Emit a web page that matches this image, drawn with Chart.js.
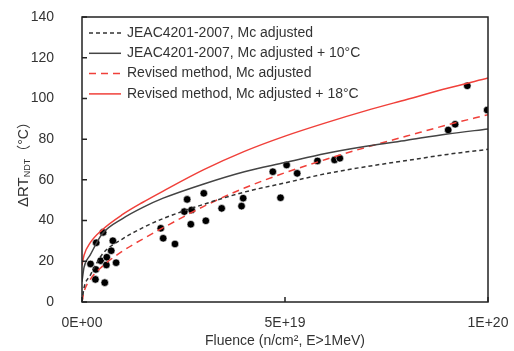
<!DOCTYPE html>
<html>
<head>
<meta charset="utf-8">
<script src="https://cdn.jsdelivr.net/npm/chart.js@4.4.1/dist/chart.umd.min.js"></script>
<style>
	html, body { margin: 0; padding: 0; background: #fff; }
</style>
</head>
<body>
<canvas id="fluenceChart" width="514" height="351"></canvas>
<script>
// fitted curves (fluence in n/cm2)
const curveFluence = [0, 0.05e19, 0.2e19, 0.5e19, 1e19, 1.5e19, 2e19, 3e19, 4e19, 5e19, 6e19, 7e19, 8e19, 9e19, 10e19];
const jeacAdjusted = [0, 7, 13, 23.5, 31, 36.5, 41, 48, 54, 58.5, 63, 66.5, 69.5, 72.5, 75];
const jeacPlus10 = [10, 17, 23, 33.5, 41, 46.5, 51, 58, 64, 68.5, 73, 76.5, 79.5, 82.5, 85];
const revisedAdjusted = [0, 5, 11, 17.5, 25, 31, 36.5, 47, 56, 63.5, 70, 76, 81.5, 87, 92];
const revisedPlus18 = [18, 23, 29, 35.5, 43, 49, 54.5, 65, 74, 81.5, 88, 94, 99.5, 105, 110];

// measured data (surveillance tests)
const measFluence = [
	0.21e19, 0.33e19, 0.34e19, 0.35e19, 0.46e19, 0.52e19, 0.56e19, 0.60e19, 0.61e19, 0.72e19, 0.76e19, 0.84e19,
	1.94e19, 2.00e19, 2.29e19, 2.52e19, 2.59e19, 2.70e19, 2.68e19, 3.00e19, 3.05e19, 3.44e19, 3.93e19, 3.97e19,
	4.70e19, 4.89e19, 5.04e19, 5.30e19, 5.80e19, 6.22e19, 6.35e19, 9.02e19, 9.19e19, 9.49e19, 9.98e19,
];
const measShift = [
	18.7, 11.1, 16.0, 29.1, 20.3, 34.2, 9.5, 18.2, 22.0, 25.2, 30.1, 19.3,
	36.2, 31.3, 28.5, 44.4, 50.4, 45.2, 38.2, 53.4, 39.9, 46.0, 47.1, 51.0,
	64.0, 51.2, 67.3, 63.2, 69.3, 69.8, 70.6, 84.5, 87.3, 106.2, 94.3,
];

const yTicks = [0, 20, 40, 60, 80, 100, 120, 140];
const xTickLabels = { 0: '0E+00', 5e19: '5E+19', 1e20: '1E+20' };

const FONT = '"Liberation Sans", Arial, sans-serif';
const TEXT_COLOR = '#333';

const toPoints = (xs, ys) => xs.map((x, i) => ({ x, y: ys[i] }));

function curve(label, ys, color, dash) {
	return {
		label,
		data: toPoints(curveFluence, ys),
		showLine: true,
		borderColor: color,
		backgroundColor: color,
		borderWidth: 1.5,
		borderDash: dash,
		pointRadius: 0,
		cubicInterpolationMode: 'monotone',
	};
}

// frame round the plot + inward tick marks
const frameAndTicks = {
	id: 'frameAndTicks',
	afterDraw(chart) {
		const { ctx, chartArea: a, scales } = chart;
		ctx.save();
		ctx.strokeStyle = '#222';
		ctx.lineWidth = 1.5;
		ctx.strokeRect(a.left, a.top, a.right - a.left, a.bottom - a.top);
		ctx.beginPath();
		yTicks.forEach((v) => {
			const y = scales.y.getPixelForValue(v);
			ctx.moveTo(a.left, y);
			ctx.lineTo(a.left + 5, y);
		});
		Object.keys(xTickLabels).forEach((v) => {
			const x = scales.x.getPixelForValue(Number(v));
			ctx.moveTo(x, a.bottom);
			ctx.lineTo(x, a.bottom - 5);
		});
		ctx.stroke();
		ctx.restore();
	},
};

// legend sits inside the plot, top left
const insideLegend = {
	id: 'insideLegend',
	afterDraw(chart) {
		const { ctx, chartArea: a } = chart;
		ctx.save();
		ctx.font = '14px ' + FONT;
		ctx.textBaseline = 'middle';
		let row = 0;
		chart.data.datasets.forEach((ds) => {
			if (!ds.showLine) return;
			const y = a.top + 16 + row * 20.3;
			ctx.strokeStyle = ds.borderColor;
			ctx.lineWidth = 1.5;
			ctx.setLineDash(ds.borderDash || []);
			ctx.beginPath();
			ctx.moveTo(a.left + 7, y);
			ctx.lineTo(a.left + 39, y);
			ctx.stroke();
			ctx.setLineDash([]);
			ctx.fillStyle = TEXT_COLOR;
			ctx.fillText(ds.label, a.left + 45, y);
			row++;
		});
		ctx.restore();
	},
};

// y title with the NDT subscript
const yTitle = {
	id: 'yTitle',
	afterDraw(chart) {
		const { ctx } = chart;
		const parts = [
			{ t: 'ΔRT', f: '15px ' + FONT, dy: 0 },
			{ t: 'NDT', f: '9px ' + FONT, dy: 4 },
			{ t: '（°C）', f: '14px ' + FONT + ', "Noto Sans CJK JP"', dy: 0 },
		];
		ctx.save();
		let total = 0;
		parts.forEach((p) => {
			ctx.font = p.f;
			p.w = ctx.measureText(p.t).width;
			total += p.w;
		});
		ctx.translate(24, 161);
		ctx.rotate(-Math.PI / 2);
		ctx.fillStyle = TEXT_COLOR;
		ctx.textBaseline = 'middle';
		let x = -total / 2;
		parts.forEach((p) => {
			ctx.font = p.f;
			ctx.fillText(p.t, x, p.dy);
			x += p.w;
		});
		ctx.restore();
	},
};

const ctx = document.getElementById('fluenceChart').getContext('2d');

new Chart(ctx, {
	type: 'scatter',
	data: {
		datasets: [
			curve('JEAC4201-2007, Mc adjusted', jeacAdjusted, '#333', [4, 3]),
			curve('JEAC4201-2007, Mc adjusted + 10°C', jeacPlus10, '#444', []),
			curve('Revised method, Mc adjusted', revisedAdjusted, '#f0403a', [7, 5]),
			curve('Revised method, Mc adjusted + 18°C', revisedPlus18, '#f0403a', []),
			{
				label: 'Measured',
				data: toPoints(measFluence, measShift),
				pointRadius: 3.8,
				pointBackgroundColor: '#000',
				pointBorderColor: '#fff',
				pointBorderWidth: 0.6,
			},
		],
	},
	options: {
		responsive: false,
		animation: false,
		layout: { padding: { left: 0, right: 26, top: 17, bottom: 0 } },
		plugins: {
			legend: { display: false },
			tooltip: { enabled: false },
		},
		scales: {
			x: {
				type: 'linear',
				min: 0,
				max: 1e20,
				afterBuildTicks: (scale) => {
					scale.ticks = Object.keys(xTickLabels).map((v) => ({ value: Number(v) }));
				},
				afterFit: (scale) => { scale.height = 49; },
				grid: { display: false },
				border: { display: false },
				ticks: {
					padding: 5,
					color: TEXT_COLOR,
					font: { family: FONT, size: 14 },
					maxRotation: 0,
					callback: (v) => xTickLabels[v],
				},
				title: {
					display: true,
					text: 'Fluence (n/cm², E>1MeV)',
					color: TEXT_COLOR,
					font: { family: FONT, size: 14 },
					padding: { top: 0, bottom: 1 },
				},
			},
			y: {
				min: 0,
				max: 140,
				afterBuildTicks: (scale) => {
					scale.ticks = yTicks.map((v) => ({ value: v }));
				},
				afterFit: (scale) => {
					scale.width = 82;
					// tick padding is horizontal here, don't let it push the plot down
					scale.paddingTop = 8;
					scale.paddingBottom = 8;
				},
				grid: { display: false },
				border: { display: false },
				ticks: {
					padding: 20,
					color: TEXT_COLOR,
					font: { family: FONT, size: 14 },
				},
			},
		},
	},
	plugins: [frameAndTicks, insideLegend, yTitle],
});
</script>
</body>
</html>
